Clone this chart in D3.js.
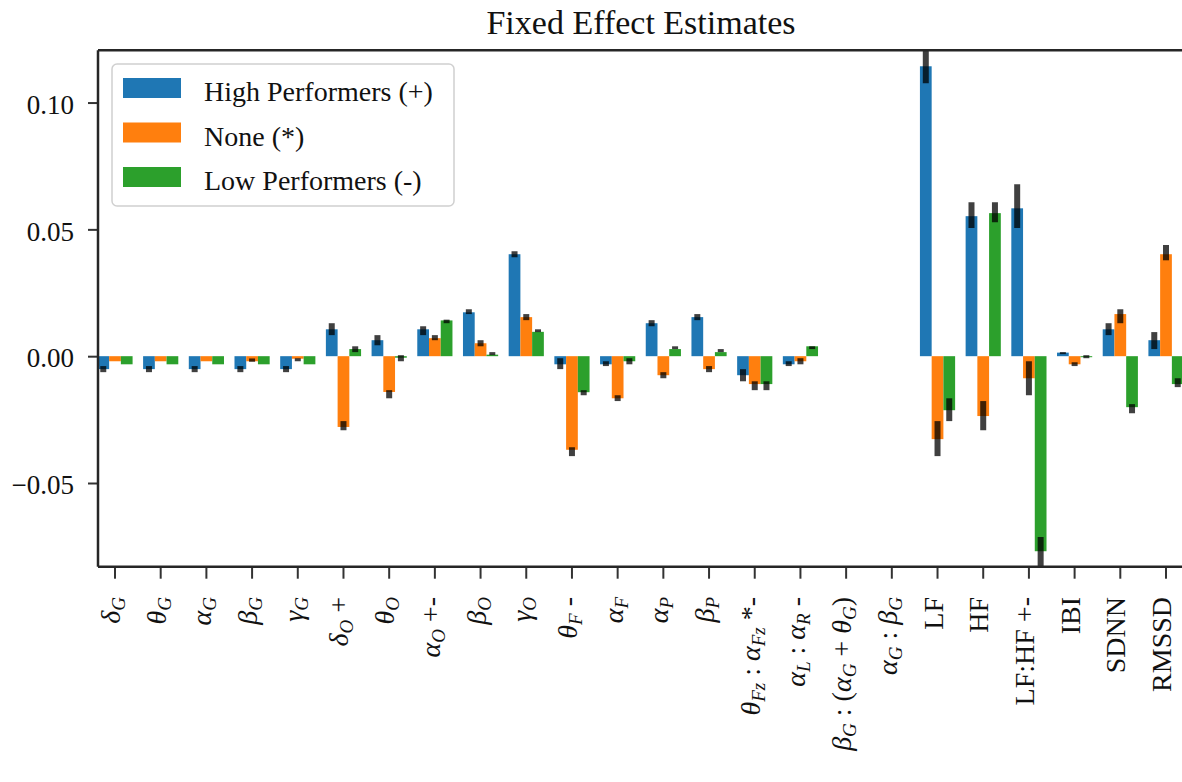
<!DOCTYPE html>
<html>
<head>
<meta charset="utf-8">
<script src="https://cdn.jsdelivr.net/npm/d3@7"></script>
<style>
  body { margin: 0; background: #fff; }
  svg { display: block; }
  svg text { font-family: "Liberation Serif", "Times New Roman", serif; }
</style>
</head>
<body>
<div class="container"></div>
<script>
const width = 1182;
const height = 782;
const FONT = "Liberation Serif, Times New Roman, serif";

// labels use a tiny markup: greek letters go italic, _X or _{..} is a subscript
const categories = [
  "δ_G", "θ_G", "α_G", "β_G", "γ_G", "δ_O +", "θ_O", "α_O +-", "β_O", "γ_O",
  "θ_F -", "α_F", "α_P", "β_P", "θ_{Fz} : α_{Fz} *-", "α_L : α_R -",
  "β_G : (α_G + θ_G)", "α_G : β_G", "LF", "HF", "LF:HF +-", "IBI", "SDNN", "RMSSD"
];

const seriesNames = ["High Performers (+)", "None (*)", "Low Performers (-)"];
const seriesColors = ["#1f77b4", "#ff7f0e", "#2ca02c"];

const high   = [-0.0051, -0.0051, -0.0051, -0.0051, -0.0051, 0.0106, 0.0063, 0.0106, 0.0173, 0.0402, -0.0032, -0.0032, 0.0130, 0.0154, -0.0075, -0.0032, null, null, 0.1143, 0.0552, 0.0583, 0.0014, 0.0106, 0.0063];
const highLo = [-0.0063, -0.0063, -0.0063, -0.0063, -0.0063, 0.0083, 0.0043, 0.0083, 0.0166, 0.0390, -0.0051, -0.0039, 0.0118, 0.0142, -0.0099, -0.0039, null, null, 0.1076, 0.0505, 0.0505, 0.0008, 0.0083, 0.0028];
const highHi = [-0.0039, -0.0039, -0.0039, -0.0039, -0.0039, 0.0130, 0.0083, 0.0118, 0.0185, 0.0414, -0.0008, -0.0020, 0.0142, 0.0166, -0.0051, -0.0020, null, null, 0.1240, 0.0607, 0.0678, 0.0016, 0.0130, 0.0095];

const none   = [-0.0020, -0.0020, -0.0020, -0.0020, -0.0010, -0.0279, -0.0141, 0.0071, 0.0051, 0.0154, -0.0369, -0.0166, -0.0075, -0.0051, -0.0110, -0.0020, null, null, -0.0327, -0.0236, -0.0087, -0.0032, 0.0166, 0.0402];
const noneLo = [-0.0020, -0.0020, -0.0020, -0.0022, -0.0020, -0.0292, -0.0166, 0.0063, 0.0039, 0.0142, -0.0394, -0.0177, -0.0087, -0.0063, -0.0134, -0.0032, null, null, -0.0394, -0.0292, -0.0154, -0.0039, 0.0130, 0.0378];
const noneHi = [-0.0020, -0.0020, -0.0020, -0.0009, -0.0008, -0.0256, -0.0134, 0.0083, 0.0063, 0.0166, -0.0359, -0.0154, -0.0063, -0.0039, -0.0099, -0.0008, null, null, -0.0256, -0.0177, -0.0020, -0.0024, 0.0185, 0.0438];

const low    = [-0.0032, -0.0032, -0.0032, -0.0032, -0.0032, 0.0028, -0.0006, 0.0141, 0.0006, 0.0096, -0.0142, -0.0020, 0.0028, 0.0016, -0.0110, 0.0039, null, null, -0.0213, 0.0564, -0.0769, -0.0004, -0.0201, -0.0110];
const lowLo  = [-0.0032, -0.0032, -0.0032, -0.0032, -0.0032, 0.0016, -0.0020, 0.0130, 0.0004, 0.0095, -0.0154, -0.0032, 0.0028, 0.0016, -0.0134, 0.0028, null, null, -0.0256, 0.0528, -0.0900, -0.0008, -0.0225, -0.0122];
const lowHi  = [-0.0032, -0.0032, -0.0032, -0.0032, -0.0032, 0.0039, 0.0004, 0.0144, 0.0016, 0.0106, -0.0134, -0.0008, 0.0039, 0.0028, -0.0099, 0.0039, null, null, -0.0166, 0.0607, -0.0713, 0.0004, -0.0189, -0.0087];

const yTicks = [-0.05, 0.00, 0.05, 0.10];

const series = [
  {name: seriesNames[0], values: high, lo: highLo, hi: highHi},
  {name: seriesNames[1], values: none, lo: noneLo, hi: noneHi},
  {name: seriesNames[2], values: low,  lo: lowLo,  hi: lowHi}
];

// plot frame (right spine falls just outside the picture)
const plot = {left: 98, right: 1184, top: 50.3, bottom: 566.7};

const x = d3.scaleBand()
    .domain(d3.range(categories.length))
    .range([92.15, 1188.85]);

const groupWidth = x.bandwidth() * 0.77;
const xSub = d3.scaleBand()
    .domain(d3.range(series.length))
    .range([0, groupWidth]);

const y = d3.scaleLinear()
    .domain([-0.0830, 0.1206])
    .range([plot.bottom, plot.top]);

const svg = d3.select(".container")
  .append("svg")
    .attr("width", width)
    .attr("height", height);

svg.append("defs").append("clipPath")
    .attr("id", "plotclip")
  .append("rect")
    .attr("x", plot.left)
    .attr("y", plot.top)
    .attr("width", plot.right - plot.left)
    .attr("height", plot.bottom - plot.top);

const body = svg.append("g").attr("clip-path", "url(#plotclip)");

series.forEach((s, si) => {
  const pts = s.values.map((v, i) => ({i, v, lo: s.lo[i], hi: s.hi[i]})).filter(d => d.v !== null);
  const bx = d => x(d.i) + (x.bandwidth() - groupWidth) / 2 + xSub(si);

  body.append("g")
    .selectAll("rect")
    .data(pts)
    .join("rect")
      .attr("x", bx)
      .attr("width", xSub.bandwidth())
      .attr("y", d => y(Math.max(d.v, 0)))
      .attr("height", d => Math.abs(y(d.v) - y(0)))
      .attr("fill", seriesColors[si]);

  body.append("g")
    .selectAll("line")
    .data(pts.filter(d => d.hi > d.lo))
    .join("line")
      .attr("x1", d => bx(d) + xSub.bandwidth() / 2)
      .attr("x2", d => bx(d) + xSub.bandwidth() / 2)
      .attr("y1", d => y(d.lo))
      .attr("y2", d => y(d.hi))
      .attr("stroke", "#000")
      .attr("stroke-opacity", 0.75)
      .attr("stroke-width", 6);
});

// y axis
const yAxis = svg.append("g")
    .attr("transform", `translate(${plot.left},0)`)
    .call(d3.axisLeft(y).tickValues(yTicks).tickFormat(d3.format(".2f")).tickSize(10).tickPadding(14))
    .attr("font-family", FONT)
    .attr("font-size", 27);
yAxis.select(".domain").remove();
yAxis.selectAll(".tick line").attr("stroke", "#333").attr("stroke-width", 2);
yAxis.selectAll(".tick text")
    .attr("fill", "#111")
    .attr("font-family", FONT)
    .attr("dy", "0.4em");

// x axis: ticks only, labels drawn below
const xAxis = svg.append("g")
    .attr("transform", `translate(0,${plot.bottom})`)
    .call(d3.axisBottom(x).tickSize(12).tickFormat(""));
xAxis.select(".domain").remove();
xAxis.selectAll(".tick line").attr("stroke", "#333").attr("stroke-width", 2);

function labelParts(str) {
  const parts = [];
  let plain = "";
  const flush = () => { if (plain) { parts.push({t: plain, kind: "plain"}); plain = ""; } };
  for (let k = 0; k < str.length; k++) {
    const c = str[k];
    if (c >= "\u03b1" && c <= "\u03c9") {
      flush();
      parts.push({t: c, kind: "greek"});
    } else if (c === "_") {
      flush();
      let sub;
      if (str[k + 1] === "{") {
        const end = str.indexOf("}", k);
        sub = str.slice(k + 2, end);
        k = end;
      } else {
        sub = str[k + 1];
        k += 1;
      }
      parts.push({t: sub, kind: "sub"});
    } else {
      plain += c;
    }
  }
  flush();
  return parts;
}

const labels = svg.append("g")
  .selectAll("text")
  .data(categories)
  .join("text")
    .attr("transform", (d, i) => `translate(${x(i) + x.bandwidth() / 2 + 5},597) rotate(-90)`)
    .attr("text-anchor", "end")
    .attr("fill", "#111")
    .attr("font-family", FONT)
    .attr("font-size", 28)
    .attr("xml:space", "preserve");

labels.each(function(d) {
  const t = d3.select(this);
  let shift = 0;
  labelParts(d).forEach(p => {
    const sp = t.append("tspan").text(p.t);
    const target = p.kind === "sub" ? 5 : 0;
    if (target !== shift) { sp.attr("dy", target - shift); shift = target; }
    if (p.kind === "sub") sp.attr("font-size", 19).attr("font-style", "italic");
    if (p.kind === "greek") sp.attr("font-style", "italic");
  });
});

// spines
const spine = svg.append("g").attr("stroke", "#262626").attr("stroke-width", 2.5);
spine.append("line").attr("x1", plot.left).attr("x2", plot.left).attr("y1", plot.top).attr("y2", plot.bottom);
spine.append("line").attr("x1", plot.left).attr("x2", plot.right).attr("y1", plot.top).attr("y2", plot.top);
spine.append("line").attr("x1", plot.left).attr("x2", plot.right).attr("y1", plot.bottom).attr("y2", plot.bottom);
spine.append("line").attr("x1", plot.right).attr("x2", plot.right).attr("y1", plot.top).attr("y2", plot.bottom);

// title
svg.append("text")
    .attr("x", (plot.left + plot.right) / 2)
    .attr("y", 34)
    .attr("text-anchor", "middle")
    .attr("fill", "#111")
    .attr("font-family", FONT)
    .attr("font-size", 34)
    .text("Fixed Effect Estimates");

// legend
const legend = svg.append("g");
legend.append("rect")
    .attr("x", 112).attr("y", 64)
    .attr("width", 342).attr("height", 142)
    .attr("rx", 5)
    .attr("fill", "#fff").attr("fill-opacity", 0.8)
    .attr("stroke", "#d0d0d0").attr("stroke-width", 1.5);

const item = legend.selectAll("g.item")
  .data(seriesNames)
  .join("g")
    .attr("class", "item")
    .attr("transform", (d, i) => `translate(0,${88 + i * 44.5})`);

item.append("rect")
    .attr("x", 123).attr("y", -10)
    .attr("width", 58).attr("height", 20)
    .attr("fill", (d, i) => seriesColors[i]);

item.append("text")
    .attr("x", 204).attr("y", 13)
    .attr("fill", "#111")
    .attr("font-family", FONT)
    .attr("font-size", 28)
    .text(d => d);
</script>
</body>
</html>
